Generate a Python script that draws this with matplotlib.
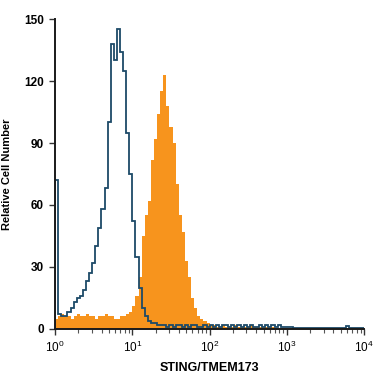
import numpy as np
import matplotlib
matplotlib.use("Agg")
import matplotlib.pyplot as plt
from matplotlib.ticker import LogLocator, NullFormatter

plt.rcParams["font.family"] = ["Liberation Sans Narrow", "Liberation Sans", "DejaVu Sans"]
plt.rcParams["mathtext.default"] = "bf"

# Histogram layout: 100 channels spanning 4 decades (log10 units)
log_edges = np.linspace(0, 4, 101)

# Isotype control (outline, blue)
isotype = [72, 7, 6, 6, 8, 10, 13, 15, 16, 19,
           23, 27, 32, 40, 49, 58, 68, 100, 138, 130,
           145, 134, 125, 95, 75, 52, 35, 20, 10, 6,
           4, 3, 3, 2, 2, 2, 1, 2, 1, 2,
           2, 1, 2, 1, 2, 2, 1, 1, 2, 1,
           2, 1, 2, 1, 2, 2, 1, 2, 1, 2,
           1, 2, 1, 2, 1, 1, 2, 1, 2, 1,
           2, 1, 2, 1, 1, 1, 1, 0.5, 0.5, 0.5,
           0.5, 0.5, 0.5, 0.5, 0.5, 0.5, 0.5, 0.5, 0.5, 0.5,
           0.5, 0.5, 0.5, 0.5, 1.5, 0.5, 0.5, 0.5, 0.5, 0.5]

# STING/TMEM173 antibody (filled, orange)
sting = [5, 6, 7, 6, 6, 5, 6, 7, 6, 6,
         7, 6, 6, 5, 6, 6, 7, 6, 6, 5,
         5, 6, 6, 7, 8, 11, 16, 25, 45, 55,
         62, 82, 92, 104, 115, 123, 108, 98, 90, 70,
         55, 47, 33, 25, 15, 10, 6, 5, 4, 3,
         2, 2, 1, 1, 2, 1, 1, 1, 2, 1,
         1, 1, 1, 2, 1, 1, 1, 1, 1, 1,
         1, 0.3, 0.3, 0.3, 0.3, 0.3, 0.3, 0.3, 0.3, 0.3,
         0.3, 0.3, 0.3, 0.3, 0.3, 0.3, 0.3, 0.3, 0.3, 0.3,
         0.3, 0.3, 0.3, 0.3, 0.3, 0.3, 0.3, 0.3, 0.3, 0.3]

y_ticks = [0, 30, 60, 90, 120, 150]

edges = 10 ** log_edges

fig = plt.figure(figsize=(3.75, 3.75), dpi=100)
ax = fig.add_axes([0.147, 0.123, 0.824, 0.826])

ax.stairs(sting, edges, fill=True, color="#f7941d", linewidth=0)
ax.stairs(isotype, edges, color="#1d4a68", linewidth=1.3)

ax.set_xscale("log")
ax.set_xlim(1, 1e4)
ax.set_ylim(0, 150)
ax.set_yticks(y_ticks)
ax.xaxis.set_major_locator(LogLocator(base=10, numticks=10))
ax.xaxis.set_minor_locator(LogLocator(base=10, subs=np.arange(2, 10), numticks=20))
ax.xaxis.set_minor_formatter(NullFormatter())

for side in ["top", "right"]:
    ax.spines[side].set_visible(False)
for side in ["left", "bottom"]:
    ax.spines[side].set_linewidth(1.4)
    ax.spines[side].set_color("#1a1a1a")

ax.tick_params(axis="both", which="major", length=4, width=1, color="#333333",
               labelsize=8.5, pad=4)
ax.tick_params(axis="x", which="minor", length=3, width=0.8, color="#555555")
for lbl in ax.get_yticklabels():
    lbl.set_fontweight("bold")

ax.set_xlabel("STING/TMEM173", fontsize=9, fontweight="bold", labelpad=5)
ax.set_ylabel("Relative Cell Number", fontsize=8, fontweight="bold", labelpad=9)

fig.savefig("out.png", dpi=100)
